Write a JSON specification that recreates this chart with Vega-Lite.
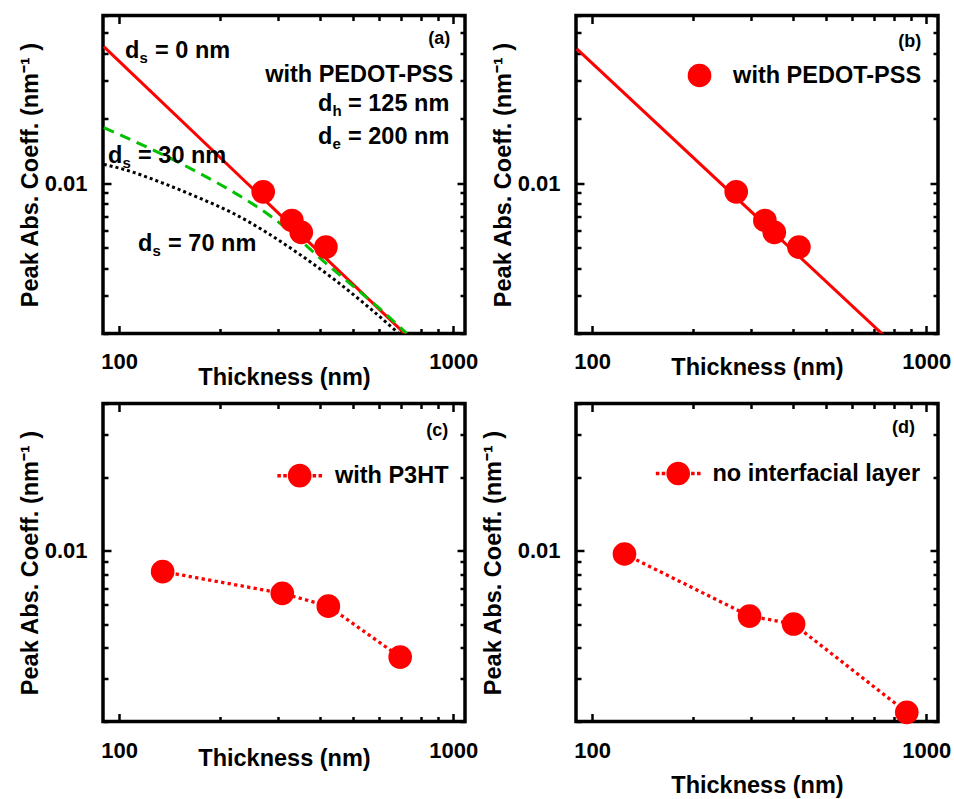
{
  "$schema": "https://vega.github.io/schema/vega-lite/v6.json",
  "padding": {"left": 16, "top": 2.5, "right": 5, "bottom": 4},
  "background": "white",
  "bounds": "flush",
  "columns": 2,
  "spacing": {"row": 70, "column": 111},
  "resolve": {"scale": {"color": "independent"}, "legend": {"color": "independent"}},
  "config": {
    "font": "Liberation Sans",
    "view": {"stroke": "#000", "strokeWidth": 3.5},
    "axis": {"domain": false, "grid": false, "tickColor": "#000", "tickWidth": 2.5, "labelFont": "Liberation Sans", "labelFontSize": 22, "labelFontWeight": "bold", "labelColor": "#000", "titleFont": "Liberation Sans", "titleFontSize": 23.5, "titleFontWeight": "bold", "titleColor": "#000", "labelFlush": false, "labelOverlap": false},
    "legend": {"labelFont": "Liberation Sans", "labelFontSize": 23.5, "labelFontWeight": "bold", "labelColor": "#000", "padding": 0, "labelLimit": 400},
    "text": {"font": "Liberation Sans", "fontWeight": "bold", "fontSize": 23.5, "color": "#000"}
  },
  "datasets": {
    "a_curves": [
      {"curve": "ds0", "thickness": 90, "coeff": 0.0430},
      {"curve": "ds0", "thickness": 760, "coeff": 0.00183},
      {"curve": "ds30", "thickness": 90, "coeff": 0.0181},
      {"curve": "ds30", "thickness": 171, "coeff": 0.01127},
      {"curve": "ds30", "thickness": 220, "coeff": 0.00907},
      {"curve": "ds30", "thickness": 283, "coeff": 0.00705},
      {"curve": "ds30", "thickness": 438, "coeff": 0.00396},
      {"curve": "ds30", "thickness": 618, "coeff": 0.00252},
      {"curve": "ds30", "thickness": 726, "coeff": 0.00200},
      {"curve": "ds70", "thickness": 90, "coeff": 0.0122},
      {"curve": "ds70", "thickness": 101, "coeff": 0.01169},
      {"curve": "ds70", "thickness": 139, "coeff": 0.00982},
      {"curve": "ds70", "thickness": 175, "coeff": 0.00848},
      {"curve": "ds70", "thickness": 220, "coeff": 0.00722},
      {"curve": "ds70", "thickness": 277, "coeff": 0.00588},
      {"curve": "ds70", "thickness": 348, "coeff": 0.00465},
      {"curve": "ds70", "thickness": 438, "coeff": 0.00359},
      {"curve": "ds70", "thickness": 552, "coeff": 0.00269},
      {"curve": "ds70", "thickness": 693, "coeff": 0.00198}
    ],
    "pedot": [
      {"thickness": 270, "coeff": 0.0091, "series": "with PEDOT-PSS"},
      {"thickness": 329, "coeff": 0.0067, "series": "with PEDOT-PSS"},
      {"thickness": 351, "coeff": 0.0059, "series": "with PEDOT-PSS"},
      {"thickness": 416, "coeff": 0.00504, "series": "with PEDOT-PSS"}
    ],
    "b_fit": [
      {"thickness": 90, "coeff": 0.0420},
      {"thickness": 760, "coeff": 0.00191}
    ],
    "p3ht": [
      {"thickness": 135, "coeff": 0.00821, "series": "with P3HT"},
      {"thickness": 308, "coeff": 0.00669, "series": "with P3HT"},
      {"thickness": 423, "coeff": 0.00593, "series": "with P3HT"},
      {"thickness": 694, "coeff": 0.00367, "series": "with P3HT"}
    ],
    "noil": [
      {"thickness": 125, "coeff": 0.00969, "series": "no interfacial layer"},
      {"thickness": 296, "coeff": 0.0054, "series": "no interfacial layer"},
      {"thickness": 401, "coeff": 0.00501, "series": "no interfacial layer"},
      {"thickness": 875, "coeff": 0.00218, "series": "no interfacial layer"}
    ],
    "a_notes": [
      {"thickness": 104.2, "coeff": 0.0411, "main": "d", "sub": "s", "rest": "= 0 nm"},
      {"thickness": 394, "coeff": 0.0232, "main": "d", "sub": "h", "rest": "= 125 nm"},
      {"thickness": 394, "coeff": 0.0164, "main": "d", "sub": "e", "rest": "= 200 nm"},
      {"thickness": 92.7, "coeff": 0.01334, "main": "d", "sub": "s", "rest": "= 30 nm"},
      {"thickness": 114, "coeff": 0.0052, "main": "d", "sub": "s", "rest": "= 70 nm"}
    ],
    "a_header": [
      {"thickness": 1000, "coeff": 0.0317, "label": "with PEDOT-PSS"}
    ],
    "tags": [
      {"panel": "a", "thickness": 980, "coeff": 0.0468, "tag": "(a)"},
      {"panel": "b", "thickness": 966, "coeff": 0.0452, "tag": "(b)"},
      {"panel": "c", "thickness": 966, "coeff": 0.0309, "tag": "(c)"},
      {"panel": "d", "thickness": 926, "coeff": 0.0317, "tag": "(d)"}
    ]
  },
  "concat": [
    {
      "width": 362, "height": 318,
      "layer": [
        {
          "data": {"name": "a_curves"},
          "transform": [{"filter": "datum.curve == 'ds0'"}],
          "mark": {"type": "line", "clip": true, "color": "#ff0000", "strokeWidth": 3},
          "encoding": {
            "x": {"field": "thickness", "type": "quantitative", "scale": {"type": "log", "domain": [89.5, 1085], "nice": false, "zero": false},
              "axis": {"orient": "bottom", "values": [100, 200, 300, 400, 500, 600, 700, 800, 900, 1000], "labelExpr": "datum.value == 100 ? '100' : datum.value == 1000 ? '1000' : ''", "tickSize": {"condition": {"test": "datum.value == 100 || datum.value == 1000", "value": -8}, "value": -5}, "labelPadding": 26, "title": "Thickness (nm)", "titlePadding": -10}},
            "y": {"field": "coeff", "type": "quantitative", "scale": {"type": "log", "domain": [0.002, 0.06], "nice": false, "zero": false},
              "axis": {"orient": "left", "values": [0.002, 0.003, 0.004, 0.005, 0.006, 0.007, 0.008, 0.009, 0.01, 0.02, 0.03, 0.04, 0.05, 0.06], "labelExpr": "datum.value == 0.01 ? '0.01' : ''", "tickSize": {"condition": {"test": "datum.value == 0.01", "value": -8}, "value": -5}, "labelPadding": 24, "title": "Peak Abs. Coeff. (nm⁻¹ )", "titlePadding": 2}}
          }
        },
        {
          "data": {"name": "a_curves"},
          "transform": [{"filter": "datum.curve == 'ds30'"}],
          "mark": {"type": "line", "clip": true, "color": "#00c000", "strokeWidth": 3, "strokeDash": [11, 7], "interpolate": "monotone"},
          "encoding": {
            "x": {"field": "thickness", "type": "quantitative", "scale": {"type": "log", "domain": [89.5, 1085], "nice": false, "zero": false}, "axis": null},
            "y": {"field": "coeff", "type": "quantitative", "scale": {"type": "log", "domain": [0.002, 0.06], "nice": false, "zero": false}, "axis": null}
          }
        },
        {
          "data": {"name": "a_curves"},
          "transform": [{"filter": "datum.curve == 'ds70'"}],
          "mark": {"type": "line", "clip": true, "color": "#000000", "strokeWidth": 3, "strokeDash": [3, 3], "interpolate": "monotone"},
          "encoding": {
            "x": {"field": "thickness", "type": "quantitative", "scale": {"type": "log", "domain": [89.5, 1085], "nice": false, "zero": false}, "axis": null},
            "y": {"field": "coeff", "type": "quantitative", "scale": {"type": "log", "domain": [0.002, 0.06], "nice": false, "zero": false}, "axis": null}
          }
        },
        {
          "data": {"name": "pedot"},
          "mark": {"type": "point", "shape": "circle", "filled": true, "size": 560, "opacity": 1, "color": "#ff0000"},
          "encoding": {
            "x": {"field": "thickness", "type": "quantitative", "scale": {"type": "log", "domain": [89.5, 1085], "nice": false, "zero": false},
              "axis": {"orient": "top", "values": [100, 200, 300, 400, 500, 600, 700, 800, 900, 1000], "labels": false, "tickSize": {"condition": {"test": "datum.value == 100 || datum.value == 1000", "value": -8}, "value": -5}, "title": null}},
            "y": {"field": "coeff", "type": "quantitative", "scale": {"type": "log", "domain": [0.002, 0.06], "nice": false, "zero": false},
              "axis": {"orient": "right", "values": [0.002, 0.003, 0.004, 0.005, 0.006, 0.007, 0.008, 0.009, 0.01, 0.02, 0.03, 0.04, 0.05, 0.06], "labels": false, "tickSize": {"condition": {"test": "datum.value == 0.01", "value": -8}, "value": -5}, "title": null}}
          }
        },
        {
          "data": {"name": "a_notes"},
          "mark": {"type": "text", "align": "left", "baseline": "middle", "fontSize": 23.5},
          "encoding": {
            "x": {"field": "thickness", "type": "quantitative", "scale": {"type": "log", "domain": [89.5, 1085], "nice": false, "zero": false}, "axis": null},
            "y": {"field": "coeff", "type": "quantitative", "scale": {"type": "log", "domain": [0.002, 0.06], "nice": false, "zero": false}, "axis": null},
            "text": {"field": "main"}
          }
        },
        {
          "data": {"name": "a_notes"},
          "mark": {"type": "text", "align": "left", "baseline": "middle", "fontSize": 15, "dx": 14.5, "dy": 7},
          "encoding": {
            "x": {"field": "thickness", "type": "quantitative", "scale": {"type": "log", "domain": [89.5, 1085], "nice": false, "zero": false}, "axis": null},
            "y": {"field": "coeff", "type": "quantitative", "scale": {"type": "log", "domain": [0.002, 0.06], "nice": false, "zero": false}, "axis": null},
            "text": {"field": "sub"}
          }
        },
        {
          "data": {"name": "a_notes"},
          "mark": {"type": "text", "align": "left", "baseline": "middle", "fontSize": 23.5, "dx": 30},
          "encoding": {
            "x": {"field": "thickness", "type": "quantitative", "scale": {"type": "log", "domain": [89.5, 1085], "nice": false, "zero": false}, "axis": null},
            "y": {"field": "coeff", "type": "quantitative", "scale": {"type": "log", "domain": [0.002, 0.06], "nice": false, "zero": false}, "axis": null},
            "text": {"field": "rest"}
          }
        },
        {
          "data": {"name": "a_header"},
          "mark": {"type": "text", "align": "right", "baseline": "middle", "fontSize": 23.5},
          "encoding": {
            "x": {"field": "thickness", "type": "quantitative", "scale": {"type": "log", "domain": [89.5, 1085], "nice": false, "zero": false}, "axis": null},
            "y": {"field": "coeff", "type": "quantitative", "scale": {"type": "log", "domain": [0.002, 0.06], "nice": false, "zero": false}, "axis": null},
            "text": {"field": "label"}
          }
        },
        {
          "data": {"name": "tags"},
          "transform": [{"filter": "datum.panel == 'a'"}],
          "mark": {"type": "text", "align": "right", "baseline": "middle", "fontSize": 18},
          "encoding": {
            "x": {"field": "thickness", "type": "quantitative", "scale": {"type": "log", "domain": [89.5, 1085], "nice": false, "zero": false}, "axis": null},
            "y": {"field": "coeff", "type": "quantitative", "scale": {"type": "log", "domain": [0.002, 0.06], "nice": false, "zero": false}, "axis": null},
            "text": {"field": "tag"}
          }
        }
      ]
    },
    {
      "width": 362, "height": 318,
      "layer": [
        {
          "data": {"name": "b_fit"},
          "mark": {"type": "line", "clip": true, "color": "#ff0000", "strokeWidth": 3},
          "encoding": {
            "x": {"field": "thickness", "type": "quantitative", "scale": {"type": "log", "domain": [89.5, 1085], "nice": false, "zero": false},
              "axis": {"orient": "bottom", "values": [100, 200, 300, 400, 500, 600, 700, 800, 900, 1000], "labelExpr": "datum.value == 100 ? '100' : datum.value == 1000 ? '1000' : ''", "tickSize": {"condition": {"test": "datum.value == 100 || datum.value == 1000", "value": -8}, "value": -5}, "labelPadding": 26, "title": "Thickness (nm)", "titlePadding": -20}},
            "y": {"field": "coeff", "type": "quantitative", "scale": {"type": "log", "domain": [0.002, 0.06], "nice": false, "zero": false},
              "axis": {"orient": "left", "values": [0.002, 0.003, 0.004, 0.005, 0.006, 0.007, 0.008, 0.009, 0.01, 0.02, 0.03, 0.04, 0.05, 0.06], "labelExpr": "datum.value == 0.01 ? '0.01' : ''", "tickSize": {"condition": {"test": "datum.value == 0.01", "value": -8}, "value": -5}, "labelPadding": 24, "title": "Peak Abs. Coeff. (nm⁻¹ )", "titlePadding": 2}}
          }
        },
        {
          "data": {"name": "pedot"},
          "mark": {"type": "point", "shape": "circle", "filled": true, "size": 560, "opacity": 1},
          "encoding": {
            "x": {"field": "thickness", "type": "quantitative", "scale": {"type": "log", "domain": [89.5, 1085], "nice": false, "zero": false},
              "axis": {"orient": "top", "values": [100, 200, 300, 400, 500, 600, 700, 800, 900, 1000], "labels": false, "tickSize": {"condition": {"test": "datum.value == 100 || datum.value == 1000", "value": -8}, "value": -5}, "title": null}},
            "y": {"field": "coeff", "type": "quantitative", "scale": {"type": "log", "domain": [0.002, 0.06], "nice": false, "zero": false},
              "axis": {"orient": "right", "values": [0.002, 0.003, 0.004, 0.005, 0.006, 0.007, 0.008, 0.009, 0.01, 0.02, 0.03, 0.04, 0.05, 0.06], "labels": false, "tickSize": {"condition": {"test": "datum.value == 0.01", "value": -8}, "value": -5}, "title": null}},
            "color": {"field": "series", "type": "nominal", "scale": {"range": ["#ff0000"]},
              "legend": {"orient": "none", "legendX": 111.5, "legendY": 48, "title": null, "symbolType": "circle", "symbolSize": 560, "symbolOpacity": 1, "symbolStrokeWidth": 0, "labelOffset": 21.6}}
          }
        },
        {
          "data": {"name": "tags"},
          "transform": [{"filter": "datum.panel == 'b'"}],
          "mark": {"type": "text", "align": "right", "baseline": "middle", "fontSize": 18},
          "encoding": {
            "x": {"field": "thickness", "type": "quantitative", "scale": {"type": "log", "domain": [89.5, 1085], "nice": false, "zero": false}, "axis": null},
            "y": {"field": "coeff", "type": "quantitative", "scale": {"type": "log", "domain": [0.002, 0.06], "nice": false, "zero": false}, "axis": null},
            "text": {"field": "tag"}
          }
        }
      ]
    },
    {
      "width": 362, "height": 318,
      "layer": [
        {
          "data": {"name": "p3ht"},
          "mark": {"type": "line", "clip": true, "color": "#ff0000", "strokeWidth": 3.3, "strokeDash": [3.3, 3.3]},
          "encoding": {
            "x": {"field": "thickness", "type": "quantitative", "scale": {"type": "log", "domain": [89.5, 1085], "nice": false, "zero": false},
              "axis": {"orient": "bottom", "values": [100, 200, 300, 400, 500, 600, 700, 800, 900, 1000], "labelExpr": "datum.value == 100 ? '100' : datum.value == 1000 ? '1000' : ''", "tickSize": {"condition": {"test": "datum.value == 100 || datum.value == 1000", "value": -8}, "value": -5}, "labelPadding": 27, "title": "Thickness (nm)", "titlePadding": -18}},
            "y": {"field": "coeff", "type": "quantitative", "scale": {"type": "log", "domain": [0.002, 0.04], "nice": false, "zero": false},
              "axis": {"orient": "left", "values": [0.002, 0.003, 0.004, 0.005, 0.006, 0.007, 0.008, 0.009, 0.01, 0.02, 0.03, 0.04], "labelExpr": "datum.value == 0.01 ? '0.01' : ''", "tickSize": {"condition": {"test": "datum.value == 0.01", "value": -8}, "value": -5}, "labelPadding": 24, "title": "Peak Abs. Coeff. (nm⁻¹ )", "titlePadding": 2}}
          }
        },
        {
          "data": {"name": "p3ht"},
          "mark": {"type": "point", "shape": "circle", "filled": true, "size": 560, "opacity": 1},
          "encoding": {
            "x": {"field": "thickness", "type": "quantitative", "scale": {"type": "log", "domain": [89.5, 1085], "nice": false, "zero": false},
              "axis": {"orient": "top", "values": [100, 200, 300, 400, 500, 600, 700, 800, 900, 1000], "labels": false, "tickSize": {"condition": {"test": "datum.value == 100 || datum.value == 1000", "value": -8}, "value": -5}, "title": null}},
            "y": {"field": "coeff", "type": "quantitative", "scale": {"type": "log", "domain": [0.002, 0.04], "nice": false, "zero": false},
              "axis": {"orient": "right", "values": [0.002, 0.003, 0.004, 0.005, 0.006, 0.007, 0.008, 0.009, 0.01, 0.02, 0.03, 0.04], "labels": false, "tickSize": {"condition": {"test": "datum.value == 0.01", "value": -8}, "value": -5}, "title": null}},
            "color": {"field": "series", "type": "nominal", "scale": {"range": ["#ff0000"]},
              "legend": {"orient": "none", "legendX": 184.7, "legendY": 60.2, "title": null, "symbolType": "M-1.89,-0.15h0.3v0.3h-0.3Z M-1.39,-0.15h0.3v0.3h-0.3Z M1.09,-0.15h0.3v0.3h-0.3Z M1.59,-0.15h0.3v0.3h-0.3Z M1,0A1,1,0,1,1,-1,0A1,1,0,1,1,1,0Z", "symbolSize": 560, "symbolOpacity": 1, "symbolStrokeWidth": 0, "labelOffset": 23.2}}
          }
        },
        {
          "data": {"name": "tags"},
          "transform": [{"filter": "datum.panel == 'c'"}],
          "mark": {"type": "text", "align": "right", "baseline": "middle", "fontSize": 18},
          "encoding": {
            "x": {"field": "thickness", "type": "quantitative", "scale": {"type": "log", "domain": [89.5, 1085], "nice": false, "zero": false}, "axis": null},
            "y": {"field": "coeff", "type": "quantitative", "scale": {"type": "log", "domain": [0.002, 0.04], "nice": false, "zero": false}, "axis": null},
            "text": {"field": "tag"}
          }
        }
      ]
    },
    {
      "width": 362, "height": 318,
      "layer": [
        {
          "data": {"name": "noil"},
          "mark": {"type": "line", "clip": true, "color": "#ff0000", "strokeWidth": 3.3, "strokeDash": [3.3, 3.3]},
          "encoding": {
            "x": {"field": "thickness", "type": "quantitative", "scale": {"type": "log", "domain": [89.5, 1085], "nice": false, "zero": false},
              "axis": {"orient": "bottom", "values": [100, 200, 300, 400, 500, 600, 700, 800, 900, 1000], "labelExpr": "datum.value == 100 ? '100' : datum.value == 1000 ? '1000' : ''", "tickSize": {"condition": {"test": "datum.value == 100 || datum.value == 1000", "value": -8}, "value": -5}, "labelPadding": 27, "title": "Thickness (nm)", "titlePadding": 9}},
            "y": {"field": "coeff", "type": "quantitative", "scale": {"type": "log", "domain": [0.002, 0.04], "nice": false, "zero": false},
              "axis": {"orient": "left", "values": [0.002, 0.003, 0.004, 0.005, 0.006, 0.007, 0.008, 0.009, 0.01, 0.02, 0.03, 0.04], "labelExpr": "datum.value == 0.01 ? '0.01' : ''", "tickSize": {"condition": {"test": "datum.value == 0.01", "value": -8}, "value": -5}, "labelPadding": 24, "title": "Peak Abs. Coeff. (nm⁻¹ )", "titlePadding": 12}}
          }
        },
        {
          "data": {"name": "noil"},
          "mark": {"type": "point", "shape": "circle", "filled": true, "size": 560, "opacity": 1},
          "encoding": {
            "x": {"field": "thickness", "type": "quantitative", "scale": {"type": "log", "domain": [89.5, 1085], "nice": false, "zero": false},
              "axis": {"orient": "top", "values": [100, 200, 300, 400, 500, 600, 700, 800, 900, 1000], "labels": false, "tickSize": {"condition": {"test": "datum.value == 100 || datum.value == 1000", "value": -8}, "value": -5}, "title": null}},
            "y": {"field": "coeff", "type": "quantitative", "scale": {"type": "log", "domain": [0.002, 0.04], "nice": false, "zero": false},
              "axis": {"orient": "right", "values": [0.002, 0.003, 0.004, 0.005, 0.006, 0.007, 0.008, 0.009, 0.01, 0.02, 0.03, 0.04], "labels": false, "tickSize": {"condition": {"test": "datum.value == 0.01", "value": -8}, "value": -5}, "title": null}},
            "color": {"field": "series", "type": "nominal", "scale": {"range": ["#ff0000"]},
              "legend": {"orient": "none", "legendX": 90.2, "legendY": 58, "title": null, "symbolType": "M-1.89,-0.15h0.3v0.3h-0.3Z M-1.39,-0.15h0.3v0.3h-0.3Z M1.09,-0.15h0.3v0.3h-0.3Z M1.59,-0.15h0.3v0.3h-0.3Z M1,0A1,1,0,1,1,-1,0A1,1,0,1,1,1,0Z", "symbolSize": 560, "symbolOpacity": 1, "symbolStrokeWidth": 0, "labelOffset": 22.2}}
          }
        },
        {
          "data": {"name": "tags"},
          "transform": [{"filter": "datum.panel == 'd'"}],
          "mark": {"type": "text", "align": "right", "baseline": "middle", "fontSize": 18},
          "encoding": {
            "x": {"field": "thickness", "type": "quantitative", "scale": {"type": "log", "domain": [89.5, 1085], "nice": false, "zero": false}, "axis": null},
            "y": {"field": "coeff", "type": "quantitative", "scale": {"type": "log", "domain": [0.002, 0.04], "nice": false, "zero": false}, "axis": null},
            "text": {"field": "tag"}
          }
        }
      ]
    }
  ]
}
